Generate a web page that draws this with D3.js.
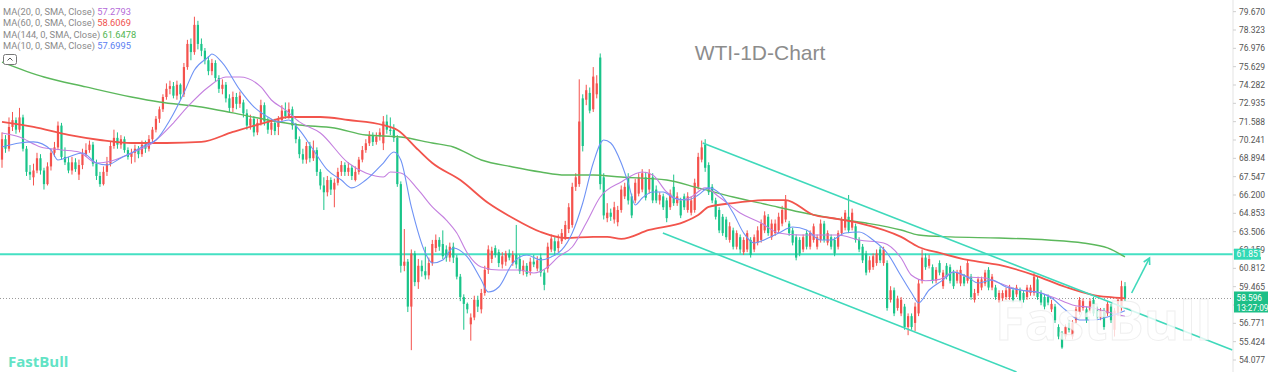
<!DOCTYPE html>
<html lang="en">
<head>
<meta charset="UTF-8">
<title>WTI-1D-Chart</title>
<style>
  html, body { margin: 0; padding: 0; background: #fff; }
  svg { display: block; font-family: Roboto, "Liberation Sans", Arial, sans-serif; }
</style>
</head>
<body>
<div class="warp"></div>
<script src="https://cdn.jsdelivr.net/npm/d3@7/dist/d3.min.js"></script>
<script>
  // daily candles (red = up, green = down)
  var opens = [
    68.8,70.3,69.6,71.2,71.7,71.0,71.9,69.6,67.9,67.5, 68.0,68.9,68.0,67.0,68.3,69.3,69.7,71.3,69.0,68.6,
    68.0,68.6,67.7,68.4,69.2,69.5,69.9,68.5,67.6,67.0, 67.9,68.5,69.8,70.4,69.9,70.3,69.5,69.0,69.3,69.6,
    69.2,69.9,69.6,70.3,71.0,71.8,72.5,73.4,74.0,74.2, 73.5,74.3,73.6,75.6,77.3,76.7,78.7,77.3,76.8,76.1,
    75.3,75.9,74.8,74.0,74.3,73.3,72.6,73.4,72.9, 73.0,72.2,71.3,71.8,70.8,71.5,72.8,71.6,71.0,71.5,
    71.2,71.7,72.4,72.0,72.5,71.3,70.3,69.2,68.8, 69.8,68.9,69.5,67.9,66.9,66.4,67.3,66.6,67.1,67.9,
    68.4,67.9,68.2,67.3,67.9,68.8,69.5,70.0,70.6, 70.1,70.5,70.0,71.6,71.0,71.0,70.4,67.0,61.0,61.3,
    58.0,61.9,59.8,61.0,60.6,60.3,61.2,62.3,62.9,62.6, 62.2,61.6,62.4,61.6,60.2,58.7,58.2,56.7,57.2,58.5,
    57.8,59.0,60.7,61.5,62.3,62.0,61.1,61.3,61.9,61.2,61.8, 61.5,60.6,61.0,60.6,61.3,60.8,61.6,60.5,60.8,62.2,62.8,
    62.3,62.8,63.1,63.7,64.0,66.8,67.0,73.3,73.2,73.7, 72.5,73.6,76.3,67.5,64.5,64.9,64.4,64.2,65.1,66.1,
    67.5,66.1,65.8,66.3,66.6,67.5,66.6,67.5,66.6,65.8,66.1, 65.8,65.3,66.8,65.6,65.8,66.1,65.1,64.9,65.1,66.8,
    68.8,69.9,68.4,66.8,65.8,65.1,64.6,64.4,62.9,63.6, 62.4,63.1,62.0,62.2,62.9,62.2,62.7,62.9,63.6,64.6,
    63.1,63.4,63.6,64.1,64.4,64.1,63.6,63.1,62.9,62.2, 63.4,62.4,62.9,62.4,62.9,64.1,62.7,63.1,62.9,62.4,
    63.4,63.8,64.6,63.8,63.9,62.9,62.4,61.9,60.7,60.9, 61.2,62.2,61.2,61.2,58.5,59.2,57.9,57.5,58.0,56.5,
    57.3,56.8,57.5,59.9,61.6,61.0,60.9,59.9,61.2,59.5, 61.0,60.9,60.5,59.9,59.7,60.2,59.9,60.2,58.5,59.0,
    59.4,59.7,60.7,59.4,59.4,58.5,58.6,58.7,58.7,59.2, 58.9,59.2,59.0,58.7,59.0,59.0,60.0,59.0,58.7,58.7,
    57.8,58.0,56.5,56.0,55.8,56.8,55.8,57.0,57.6,57.9, 57.8,57.7,58.5,57.8,57.2,57.7,57.5,58.0,56.3,57.5,
    57.9,59.5
  ];
  var highs = [
    70.8,70.6,71.9,72.3,71.9,72.6,72.1,69.8,68.4,68.5, 69.3,69.2,68.2,68.6,69.6,70.1,71.6,71.5,69.7,69.0,
    69.0,68.9,68.8,69.6,70.0,70.2,70.1,68.8,67.9,68.3, 69.0,70.1,71.0,70.8,70.6,70.5,69.7,69.6,69.9,69.8,
    70.2,70.2,70.6,71.2,72.0,72.7,73.6,74.4,74.6,74.5, 74.6,74.4,75.9,77.6,77.7,79.3,79.0,77.7,77.0,76.4,
    76.2,76.1,75.0,74.7,74.5,73.6,73.8,73.7,73.8, 73.2,72.5,72.1,72.0,71.8,73.2,73.0,71.9,71.8,71.8,
    72.0,72.8,73.0,73.0,72.7,71.5,70.5,69.6,70.1, 70.1,70.2,69.7,68.1,67.5,67.6,67.5,67.4,68.2,68.7,
    68.6,68.6,68.4,68.3,69.0,69.8,70.3,70.9,70.8, 70.8,71.1,72.0,72.1,71.9,71.4,70.6,67.2,63.7,61.5,
    62.2,62.1,61.5,61.4,62.4,61.6,62.9,63.3,63.1,63.6, 62.5,62.7,62.7,61.8,60.4,58.9,58.3,57.5,58.8,58.8,
    59.3,61.0,62.5,62.4,62.5,62.2,62.0,62.1,62.2,62.1,64.0, 61.8,61.4,61.2,61.6,61.8,61.7,61.9,60.7,62.7,63.3,63.1,
    63.3,63.7,64.3,65.6,67.1,67.8,74.7,73.6,74.3,74.1, 75.6,75.0,76.6,67.8,65.6,65.2,65.7,65.4,66.9,67.1,
    67.8,66.3,67.4,67.8,68.1,67.9,68.1,67.8,66.9,66.4,66.3, 66.0,66.6,67.7,66.4,66.0,66.3,66.4,66.1,67.4,69.3,
    70.2,70.3,68.6,67.0,66.0,65.3,64.8,64.6,64.2,63.8, 63.6,63.3,63.1,63.6,63.1,63.3,63.9,64.4,65.0,64.8,
    64.4,64.4,64.9,65.4,66.2,64.3,63.8,63.3,63.1,63.3, 63.6,63.6,64.1,63.3,64.4,64.3,63.6,63.3,63.1,63.6,
    64.6,65.1,66.2,65.2,64.1,63.1,62.6,62.1,61.7,61.9, 62.2,62.4,62.4,61.4,59.5,59.4,58.8,58.7,58.2,57.5,
    57.5,58.3,60.0,62.2,61.9,61.8,61.1,60.9,61.4,60.7, 61.2,61.1,60.7,60.7,61.0,60.4,61.5,60.4,59.3,60.2,
    60.2,60.7,60.9,60.4,59.6,59.2,59.2,59.4,59.6,59.4, 59.6,59.4,59.2,59.6,59.6,60.5,60.2,59.2,58.9,58.9,
    58.5,58.2,56.7,56.2,56.7,57.0,57.0,58.0,58.7,58.6, 58.0,58.6,58.7,58.0,57.9,57.9,58.4,58.2,57.9,58.7,
    59.9,59.8
  ];
  var lows = [
    68.2,69.3,69.4,70.9,70.7,70.8,69.4,67.6,67.3,66.9, 67.8,67.7,66.6,66.9,68.0,69.0,69.5,68.8,68.4,67.8,
    67.7,67.9,67.3,68.1,69.0,69.3,68.3,67.3,66.8,66.9, 67.6,68.3,69.6,69.6,69.6,69.3,68.8,68.5,68.6,68.9,
    69.0,69.3,69.4,70.0,70.8,71.5,72.3,73.2,73.6,73.3, 73.2,73.2,73.4,75.4,76.1,76.5,76.9,76.4,75.8,75.0,
    75.0,74.5,73.7,73.6,73.0,72.3,72.3,72.5,72.6, 71.9,71.0,71.0,70.5,70.6,71.3,71.3,70.7,70.6,70.6,
    70.6,71.5,71.8,71.8,71.0,70.0,68.9,68.5,68.5, 68.6,68.7,67.6,66.6,65.1,66.1,66.2,65.3,66.9,67.6,
    67.6,67.6,67.3,67.2,67.7,68.6,69.3,69.8,69.8, 69.9,70.2,69.5,70.7,70.6,70.1,66.8,60.5,60.6,57.6,
    54.8,59.5,59.3,60.2,60.0,60.0,61.0,62.0,62.1,61.5, 61.3,61.3,61.2,60.0,58.4,56.3,57.5,55.5,57.0,57.6,
    57.5,58.8,60.4,61.2,61.6,60.9,60.8,61.0,61.4,61.0,60.8, 60.4,60.3,60.2,60.3,60.9,60.6,60.2,59.2,60.5,62.0,61.8,
    62.0,62.6,62.9,63.4,63.8,66.5,66.8,69.4,72.8,72.2, 72.3,73.3,66.6,64.4,64.2,64.3,64.1,63.9,64.9,65.9,
    65.5,64.5,65.6,66.1,66.4,65.8,66.3,65.6,65.6,65.5,65.1, 64.2,65.1,65.4,65.4,64.5,65.1,64.9,64.7,64.9,66.6,
    68.6,67.9,66.2,65.6,64.4,63.4,63.2,62.9,62.7,62.2, 62.2,61.9,61.8,62.0,61.6,62.0,62.5,62.7,63.4,63.2,
    62.9,63.2,63.4,63.9,64.2,63.2,62.5,61.4,61.7,62.0, 62.2,62.2,62.7,62.2,62.7,62.7,62.5,62.2,61.7,62.2,
    63.2,63.6,63.4,63.6,62.7,62.0,61.2,60.3,60.5,60.7, 61.0,61.2,61.0,57.7,58.3,57.3,57.7,57.3,56.3,55.9,
    56.3,56.2,57.3,59.7,60.7,60.8,59.7,59.7,60.3,59.3, 60.0,59.7,59.3,59.7,59.5,59.5,59.7,58.5,58.3,58.8,
    59.2,59.5,59.2,59.2,58.5,58.3,58.4,58.5,58.5,58.3, 58.7,58.3,58.3,58.5,58.8,58.8,58.5,58.1,57.8,58.1,
    57.6,56.8,55.6,54.9,55.6,56.1,55.6,56.8,57.4,57.7, 56.8,57.5,57.3,57.0,57.0,56.3,57.3,56.8,55.8,57.3,
    57.7,58.4
  ];
  var closes = [
    70.3,69.6,71.2,71.7,71.0,71.9,69.6,67.9,67.7,68.0, 68.9,68.0,67.0,68.3,69.3,69.7,71.3,69.0,68.6,68.0,
    68.6,68.1,68.4,69.2,69.5,69.9,68.5,67.6,67.0,67.9, 68.5,69.8,70.4,69.9,70.3,69.5,69.0,69.3,69.6,69.2,
    69.9,69.6,70.3,71.0,71.8,72.5,73.4,74.0,74.2,73.5, 74.3,73.6,75.6,77.3,76.7,78.7,77.3,76.8,76.1,75.3,
    75.9,74.8,74.0,74.3,73.3,72.6,73.4,72.9,73.5, 72.2,71.3,71.8,70.8,71.5,72.8,71.6,71.0,71.5,70.9,
    71.7,72.4,72.0,72.5,71.3,70.3,69.2,68.8,69.8, 68.9,69.5,67.9,66.9,66.4,67.3,66.6,67.1,67.9,68.4,
    67.9,68.2,67.6,67.9,68.8,69.5,70.0,70.6,70.1, 70.5,70.8,71.6,71.0,70.9,70.4,67.0,61.0,61.3,58.0,
    61.9,59.8,61.0,60.6,60.3,61.2,62.6,62.9,62.4,61.7, 61.6,62.4,61.6,60.2,58.7,58.2,57.8,57.2,58.5,58.0,
    59.0,60.7,62.2,62.1,61.8,61.2,61.7,61.9,61.6,61.8,61.1, 60.6,61.0,60.4,61.3,61.1,61.4,60.5,59.6,62.4,63.0,62.1,
    62.8,63.4,64.0,65.3,66.8,67.5,71.6,69.8,73.9,72.4, 74.9,74.4,67.0,64.7,64.9,64.6,65.3,65.1,66.6,66.8,
    65.8,64.7,67.1,67.5,67.8,66.0,67.8,65.8,65.8,66.2,65.3, 64.5,66.3,65.6,66.1,64.7,65.3,66.1,65.8,67.1,69.0,
    69.7,68.2,66.4,65.8,64.6,63.6,63.4,63.1,63.9,62.4, 63.4,62.2,62.9,63.4,61.8,63.1,63.6,64.1,64.7,63.4,
    64.1,64.1,64.6,65.1,65.8,63.4,62.7,61.6,61.9,63.1, 62.4,63.4,63.9,63.1,64.1,62.9,63.4,62.4,61.9,63.4,
    64.4,64.9,63.6,64.9,62.9,62.2,61.4,60.5,61.4,61.7, 61.9,61.4,62.2,57.9,59.2,57.5,58.6,58.5,56.5,57.3,
    56.5,58.0,59.7,61.6,60.9,61.5,59.9,60.7,60.5,60.5, 60.2,59.9,59.5,60.5,60.7,59.7,61.2,58.7,59.0,60.0,
    60.0,60.5,59.4,60.2,58.7,59.0,59.0,59.2,59.4,58.5, 59.4,58.5,58.5,59.4,59.4,60.2,58.7,58.3,58.0,58.3,
    58.2,57.0,55.8,55.0,56.5,56.3,56.8,57.8,58.5,58.4, 57.0,58.4,57.5,57.2,57.7,56.5,58.2,57.0,57.7,58.5,
    59.5,58.596
  ];

  // moving averages, [candle index, value]
  var ma10 = [[0,69.73],[5,70.02],[9,70.10],[14,69.51],[16,68.77],[19,68.99],[23,69.29],[27,68.55],[30,68.41],[34,68.92],[37,69.29],[41,69.88],[44,70.24],[48,71.71],[52,73.70],[55,75.39],[59,76.34],[60,76.56],[63,75.90],[68,73.92],[72,72.67],[76,71.93],[79,71.57],[82,71.71],[85,70.98],[89,69.51],[93,68.04],[97,67.30],[100,66.72],[104,67.30],[109,68.55],[112,69.36],[114,68.77],[117,65.32],[121,61.94],[123,61.20],[126,61.43],[129,62.31],[133,61.65],[137,59.96],[139,59.07],[142,59.44],[146,61.20],[150,61.79],[154,61.43],[157,61.65],[160,62.16],[163,63.41],[166,65.61],[169,68.55],[172,70.24],[174,70.02],[177,68.55],[179,67.08],[181,65.47],[183,65.98],[186,66.42],[189,66.42],[192,65.98],[196,65.83],[199,66.20],[202,66.72],[205,66.35],[209,64.88],[212,63.41],[215,62.67],[219,63.04],[222,63.41],[226,63.85],[230,63.63],[234,62.89],[237,62.89],[241,63.41],[245,63.48],[249,62.89],[253,61.94],[257,60.25],[260,59.00],[262,58.27],[265,59.22],[269,59.96],[272,60.54],[276,60.18],[279,59.73],[283,59.96],[287,59.44],[291,59.22],[297,59.00],[300,58.63],[304,57.75],[308,57.02],[312,57.02],[316,57.24],[321,57.70]];
  var ma20 = [[0,70.76],[5,70.46],[11,69.73],[17,69.51],[22,69.36],[27,68.55],[30,68.62],[37,69.29],[43,70.02],[49,71.49],[53,72.67],[59,74.14],[64,74.87],[68,74.87],[74,74.14],[77,73.18],[81,72.45],[85,71.57],[91,70.76],[99,68.55],[104,67.82],[109,67.52],[111,67.89],[114,67.82],[119,66.57],[123,65.32],[127,64.36],[130,63.41],[133,61.94],[137,60.91],[142,60.69],[148,60.69],[152,60.47],[156,60.91],[159,61.65],[163,62.38],[167,64.14],[171,66.05],[177,67.16],[183,67.89],[186,67.67],[190,66.42],[194,65.83],[197,66.05],[201,66.72],[205,66.05],[211,64.88],[217,64.14],[222,63.41],[228,63.26],[239,63.26],[245,62.89],[252,62.67],[257,61.57],[260,60.30],[264,59.90],[268,60.00],[272,60.54],[276,60.18],[281,60.10],[285,59.73],[291,59.22],[297,59.00],[301,58.63],[306,58.12],[312,57.90],[316,57.60],[321,57.28]];
  var ma60 = [[0,71.57],[9,71.20],[19,70.61],[28,70.24],[37,70.02],[47,70.02],[57,70.10],[66,70.83],[76,71.57],[82,71.93],[91,71.93],[99,71.71],[109,71.34],[113,70.98],[119,69.51],[123,68.55],[131,67.30],[139,65.61],[146,64.51],[154,63.48],[161,63.04],[169,63.12],[173,63.12],[177,62.97],[185,63.63],[195,64.22],[199,64.73],[202,65.32],[209,65.61],[219,65.83],[224,65.83],[232,64.73],[237,64.51],[245,64.14],[257,63.12],[262,62.38],[268,61.94],[276,61.43],[285,61.06],[295,60.32],[304,59.44],[312,58.85],[316,58.71],[321,58.61]];
  var ma144 = [[0,75.97],[12,74.87],[24,74.14],[37,73.40],[45,73.03],[57,72.67],[66,72.23],[76,71.71],[85,71.34],[95,71.12],[104,70.61],[114,70.46],[123,70.02],[129,69.73],[137,68.77],[146,68.26],[154,67.89],[161,67.67],[169,67.67],[177,67.52],[190,67.30],[199,66.72],[209,66.05],[219,65.47],[228,64.95],[237,64.51],[247,64.14],[257,63.63],[262,63.26],[271,63.12],[285,63.04],[299,62.89],[309,62.67],[316,62.31],[321,61.65]];

  var maNames = ['MA(20, 0, SMA, Close)', 'MA(60, 0, SMA, Close)', 'MA(144, 0, SMA, Close)', 'MA(10, 0, SMA, Close)'];
  var maLast = ['57.2793', '58.6069', '61.6478', '57.6995'];

  var yTicks = [79.670,78.323,76.976,75.629,74.282,72.935,71.588,70.241,68.894,67.547,66.200,64.853,63.506,62.159,60.812,59.465,58.118,56.771,55.424,54.077];

  // analyst drawings
  var hLevel = 61.851;
  var lastPrice = 58.596, lastTime = '13:27:09';
  var channelTop = [[200.3,70.02],[351.7,54.81]];
  var channelBottom = [[188.9,63.41],[290,53.20]];
  var arrowLine = [[322.9,59.0],[328.0,61.57]];

  var W = 1268, H = 372, axisX = 1233;
  var svg = d3.select('.warp').append('svg').attr('width', W).attr('height', H);

  var x = d3.scaleLinear().domain([0, closes.length - 1]).range([2, 1125]);
  var y = d3.scaleLinear().domain([54.077, 79.670]).range([360.0, 11.67]);

  var upC = '#f4524d', downC = '#19c489';

  var plot = svg.append('g');
  plot.append('clipPath').attr('id', 'clip').append('rect')
    .attr('x', 0).attr('y', 0).attr('width', axisX).attr('height', H);
  var body = plot.append('g').attr('clip-path', 'url(#clip)');

  // level + last price lines
  body.append('line')
    .attr('x1', 0).attr('x2', axisX)
    .attr('y1', y(lastPrice)).attr('y2', y(lastPrice))
    .attr('stroke', '#9a9a9a').attr('stroke-width', 1).attr('stroke-dasharray', '1,2');
  body.append('line')
    .attr('x1', 0).attr('x2', axisX)
    .attr('y1', y(hLevel)).attr('y2', y(hLevel))
    .attr('stroke', '#45e0c3').attr('stroke-width', 2);

  // candles
  var idx = d3.range(closes.length);
  var cg = body.append('g');
  cg.selectAll('line.wick').data(idx).enter().append('line')
    .attr('class', 'wick')
    .attr('x1', function(i) { return x(i); }).attr('x2', function(i) { return x(i); })
    .attr('y1', function(i) { return y(highs[i]); }).attr('y2', function(i) { return y(lows[i]); })
    .attr('stroke', function(i) { return closes[i] >= opens[i] ? upC : downC; })
    .attr('stroke-width', 1);
  cg.selectAll('rect.body').data(idx).enter().append('rect')
    .attr('class', 'body')
    .attr('x', function(i) { return x(i) - 1.1; })
    .attr('width', 2.2)
    .attr('y', function(i) { return y(Math.max(opens[i], closes[i])); })
    .attr('height', function(i) { return Math.max(1, Math.abs(y(opens[i]) - y(closes[i]))); })
    .attr('fill', function(i) { return closes[i] >= opens[i] ? upC : downC; });

  // moving averages
  var line = d3.line()
    .x(function(d) { return x(d[0]); })
    .y(function(d) { return y(d[1]); })
    .curve(d3.curveMonotoneX);
  var maStyle = [
    { data: ma144, color: '#5cb85c', w: 1.4 },
    { data: ma60, color: '#f2544c', w: 1.8 },
    { data: ma20, color: '#c47fdf', w: 1.1 },
    { data: ma10, color: '#6f93f5', w: 1.1 }
  ];
  maStyle.forEach(function(m) {
    body.append('path').datum(m.data).attr('d', line)
      .attr('fill', 'none').attr('stroke', m.color).attr('stroke-width', m.w);
  });

  // watermark
  svg.append('text')
    .attr('x', 995).attr('y', 340)
    .attr('font-size', 54).attr('font-weight', 'bold')
    .attr('font-family', '"Open Sans", Roboto, sans-serif')
    .attr('fill', 'rgba(255,255,255,0.78)')
    .attr('stroke', 'rgba(215,215,215,0.4)').attr('stroke-width', 1)
    .text('FastBull');

  // channel + arrow
  var seg = d3.line().x(function(d) { return x(d[0]); }).y(function(d) { return y(d[1]); });
  [channelTop, channelBottom].forEach(function(c) {
    body.append('path').datum(c).attr('d', seg)
      .attr('fill', 'none').attr('stroke', '#3fd9bb').attr('stroke-width', 1.6);
  });
  var a0 = arrowLine[0], a1 = arrowLine[1];
  body.append('path').datum(arrowLine).attr('d', seg)
    .attr('fill', 'none').attr('stroke', '#3fd9bb').attr('stroke-width', 1.6);
  var ax = x(a1[0]), ay = y(a1[1]);
  var ang = Math.atan2(ay - y(a0[1]), ax - x(a0[0]));
  var hl = 7;
  body.append('path')
    .attr('d', 'M' + (ax - hl * Math.cos(ang - 0.5)) + ',' + (ay - hl * Math.sin(ang - 0.5)) +
      'L' + ax + ',' + ay +
      'L' + (ax - hl * Math.cos(ang + 0.5)) + ',' + (ay - hl * Math.sin(ang + 0.5)))
    .attr('fill', 'none').attr('stroke', '#3fd9bb').attr('stroke-width', 1.6);

  // title
  svg.append('text')
    .attr('x', 760).attr('y', 60).attr('text-anchor', 'middle')
    .attr('font-size', 21).attr('font-family', '"Liberation Sans", Arial, sans-serif')
    .attr('fill', '#8c8c8c').text('WTI-1D-Chart');

  // right axis
  var tagTop = y(lastPrice) - 7, tagBottom = y(lastPrice) + 14;
  var axis = svg.append('g');
  axis.append('line').attr('x1', axisX).attr('x2', axisX).attr('y1', 0).attr('y2', H)
    .attr('stroke', '#e3e3e3');
  var tk = axis.selectAll('g.tick').data(yTicks).enter().append('g').attr('class', 'tick')
    .attr('transform', function(d) { return 'translate(' + axisX + ',' + y(d) + ')'; });
  tk.append('line').attr('x1', 0).attr('x2', 3).attr('stroke', '#cfcfcf');
  // the last price tag sits on top of the label it covers
  tk.filter(function(d) { return y(d) < tagTop || y(d) > tagBottom; })
    .append('text').attr('x', 6).attr('dy', '0.35em')
    .attr('font-size', 8.5).attr('fill', '#555').text(function(d) { return d.toFixed(3); });

  // price tags
  var t1 = axis.append('g').attr('transform', 'translate(' + (axisX + 1) + ',' + y(hLevel) + ')');
  t1.append('rect').attr('x', 0).attr('y', -5.5).attr('width', 27).attr('height', 11).attr('fill', '#33d9b5');
  t1.append('text').attr('x', 2.5).attr('dy', '0.35em').attr('font-size', 8.5).attr('fill', '#fff').text(hLevel.toFixed(3));
  var t2 = axis.append('g').attr('transform', 'translate(' + (axisX + 1) + ',' + y(lastPrice) + ')');
  t2.append('rect').attr('x', 0).attr('y', -7).attr('width', 34).attr('height', 21).attr('fill', '#1dbf87');
  t2.append('text').attr('x', 2.5).attr('dy', '0.35em').attr('font-size', 8.3).attr('fill', '#fff').text(lastPrice.toFixed(3));
  t2.append('text').attr('x', 2.5).attr('y', 9.5).attr('dy', '0.35em').attr('font-size', 8.3).attr('fill', '#fff').text(lastTime);

  // legend
  var legColors = ['#b56ad9', '#f0524f', '#52b552', '#5b80f2'];
  var leg = svg.append('g');
  maNames.forEach(function(n, k) {
    var t = leg.append('text').attr('x', 3).attr('y', 15 + k * 11.4).attr('font-size', 9.3).attr('fill', '#8a8a8a');
    t.append('tspan').text(n + ' ');
    t.append('tspan').attr('fill', legColors[k]).text(maLast[k]);
  });
  var btn = leg.append('g').attr('transform', 'translate(3.5,54.5)');
  btn.append('rect').attr('width', 13).attr('height', 10).attr('rx', 2)
    .attr('fill', '#fff').attr('stroke', '#777');
  btn.append('path').attr('d', 'M4,6 L6.5,3.5 L9,6').attr('fill', 'none').attr('stroke', '#555');

  // logo
  svg.append('text').attr('x', 8).attr('y', 367)
    .attr('font-size', 15).attr('font-weight', 'bold')
    .attr('font-family', '"Open Sans", Roboto, sans-serif')
    .attr('fill', '#62e3c5').text('FastBull');
</script>
</body>
</html>
